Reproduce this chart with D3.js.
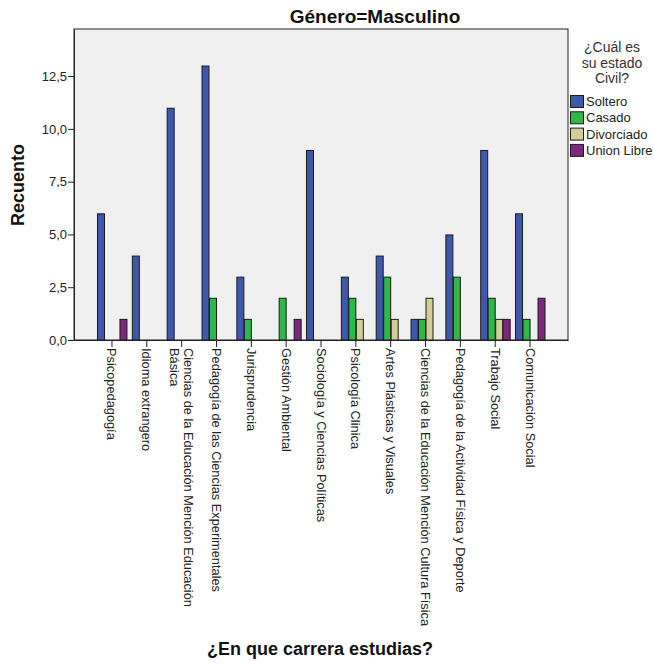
<!DOCTYPE html>
<html>
<head>
<meta charset="utf-8">
<script src="https://cdn.jsdelivr.net/npm/d3@7"></script>
<style>
  body { margin: 0; background: #fff; }
  svg { display: block; font-family: "Liberation Sans", Arial, sans-serif; }
</style>
</head>
<body>
<svg id="chart" width="654" height="664"></svg>
<script>
const categories = [
  "Psicopedagogía",
  "Idioma extrangero",
  "Ciencias de la Educación Mención Educación\nBásica",
  "Pedagogía de las Ciencias Experimentales",
  "Jurisprudencia",
  "Gestión Ambiental",
  "Sociología y Ciencias Políticas",
  "Psicología Clinica",
  "Artes Plásticas y Visuales",
  "Ciencias de la Educación Mención Cultura Física",
  "Pedagogía de la Actividad Física y Deporte",
  "Trabajo Social",
  "Comunicación Social"
];
const seriesNames = ["Soltero", "Casado", "Divorciado", "Union Libre"];
const soltero    = [6, 4, 11, 13, 3, 0, 9, 3, 4, 1, 5, 9, 6];
const casado     = [0, 0, 0, 2, 1, 2, 0, 2, 3, 1, 3, 2, 1];
const divorciado = [0, 0, 0, 0, 0, 0, 0, 1, 1, 2, 0, 1, 0];
const unionLibre = [1, 0, 0, 0, 0, 1, 0, 0, 0, 0, 0, 1, 2];
const seriesValues = [soltero, casado, divorciado, unionLibre];
const colors = ["#3E58AC", "#2EB848", "#D3CE97", "#7C287D"];
const yTicks = [0, 2.5, 5, 7.5, 10, 12.5];

const svg = d3.select("#chart");
const L = 74, R = 568, T = 29, B = 340;

const x = d3.scaleBand().domain(categories).range([L, R])
  .paddingInner(0.14).paddingOuter(0.66);
const xs = d3.scaleBand().domain(seriesNames).range([0, x.bandwidth()]);
const y = d3.scaleLinear().domain([0, 14.73]).range([B, T]);

// plot background
svg.append("rect").attr("x", L).attr("y", T).attr("width", R - L).attr("height", B - T)
  .attr("fill", "#F0F0F0").attr("stroke", "#222").attr("stroke-width", 1);

// bars
const data = [];
categories.forEach((c, i) => {
  seriesNames.forEach((s, j) => {
    const v = seriesValues[j][i];
    if (v > 0) data.push({ c, s, v, j });
  });
});
svg.append("g").selectAll("rect").data(data).join("rect")
  .attr("x", d => x(d.c) + xs(d.s) + 0.5)
  .attr("y", d => y(d.v) + 0.5)
  .attr("width", xs.bandwidth() - 0.5)
  .attr("height", d => B - y(d.v) - 0.5)
  .attr("fill", d => colors[d.j])
  .attr("stroke", "#1a1a1a").attr("stroke-width", 1);

// y axis
const fmt = d3.formatLocale({ decimal: ",", thousands: ".", grouping: [3], currency: ["", ""] }).format(".1f");
const yAxis = svg.append("g").attr("transform", `translate(${L},0)`)
  .call(d3.axisLeft(y).tickValues(yTicks).tickSize(6).tickSizeOuter(0).tickFormat(fmt));
yAxis.select(".domain").attr("stroke", "#222");
yAxis.selectAll(".tick line").attr("stroke", "#222");
yAxis.selectAll(".tick text").attr("font-size", 13).attr("fill", "#222")
  .attr("font-family", "Liberation Sans, Arial, sans-serif").attr("x", -7);

// x axis
const xAxis = svg.append("g").attr("transform", `translate(0,${B})`)
  .call(d3.axisBottom(x).tickSize(7).tickSizeOuter(0).tickFormat(""));
xAxis.select(".domain").attr("stroke", "#222");
xAxis.selectAll(".tick line").attr("stroke", "#222");

// x labels (rotated)
const lg = svg.append("g");
categories.forEach(c => {
  const cx = x(c) + x.bandwidth() / 2;
  const lines = c.split("\n");
  const t = lg.append("text")
    .attr("transform", `translate(${cx},348) rotate(90)`)
    .attr("font-size", 12.8).attr("fill", "#222").attr("text-anchor", "start");
  const start = 0.35 - (lines.length - 1) * 0.55;
  lines.forEach((ln, k) => {
    t.append("tspan").attr("x", 0).attr("y", 0)
      .attr("dy", (start + k * 1.1) + "em").text(ln);
  });
});

// titles
svg.append("text").attr("x", 375).attr("y", 23).attr("text-anchor", "middle")
  .attr("font-size", 19).attr("font-weight", "bold").attr("fill", "#111").text("Género=Masculino");
svg.append("text").attr("x", 320).attr("y", 655).attr("text-anchor", "middle")
  .attr("font-size", 18).attr("font-weight", "bold").attr("fill", "#111").text("¿En que carrera estudias?");
svg.append("text").attr("transform", `translate(24,185) rotate(-90)`).attr("text-anchor", "middle")
  .attr("font-size", 18).attr("font-weight", "bold").attr("fill", "#111").text("Recuento");

// legend
const legTitle = ["¿Cuál es", "su estado", "Civil?"];
const lt = svg.append("text").attr("text-anchor", "middle").attr("font-size", 14).attr("fill", "#333");
legTitle.forEach((s, k) => lt.append("tspan").attr("x", 612).attr("y", 52 + k * 15.5).text(s));
const leg = svg.append("g").selectAll("g").data(seriesNames).join("g")
  .attr("transform", (d, i) => `translate(570,${95 + i * 16.3})`);
leg.append("rect").attr("x", 0.5).attr("y", 0.5).attr("width", 13).attr("height", 12)
  .attr("fill", (d, i) => colors[i]).attr("stroke", "#1a1a1a");
leg.append("text").attr("x", 16).attr("y", 11).attr("font-size", 13).attr("fill", "#222").text(d => d);
</script>
</body>
</html>
